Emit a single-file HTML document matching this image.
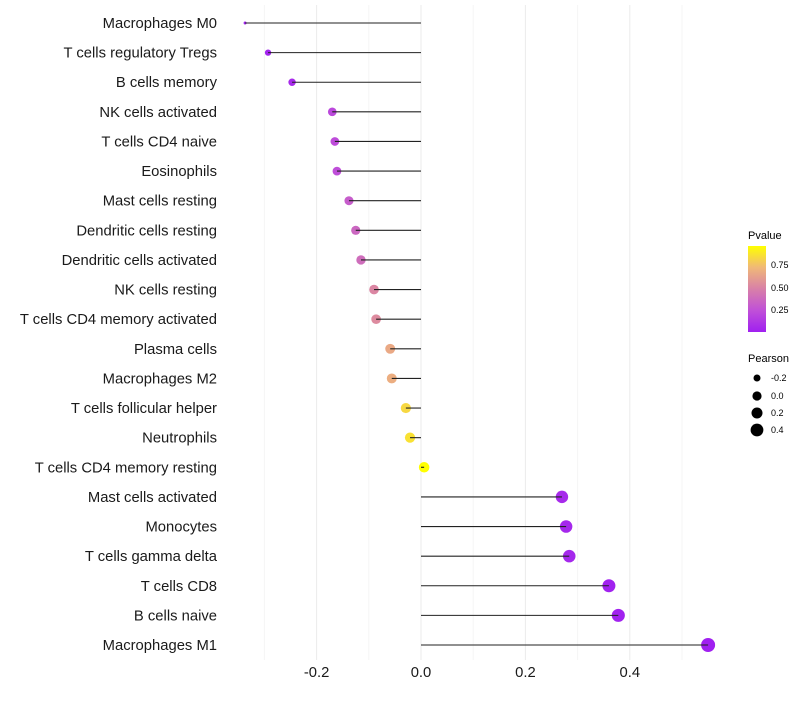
<!DOCTYPE html>
<html><head><meta charset="utf-8"><style>
body{margin:0;background:#fff;font-family:"Liberation Sans",sans-serif}
</style></head><body>
<svg id="chart" width="800" height="700" xmlns="http://www.w3.org/2000/svg">
<defs><linearGradient id="pg" x1="0" y1="1" x2="0" y2="0">
<stop offset="0" stop-color="#a020f0"/><stop offset="0.25" stop-color="#c050d8"/><stop offset="0.5" stop-color="#d880a8"/><stop offset="0.75" stop-color="#f0b878"/><stop offset="1" stop-color="#ffff00"/></linearGradient></defs>
<g id="grid"></g><g id="marks"></g><g id="labels"></g><g id="xt"></g>
<g>
<text x="748" y="239" font-size="11">Pvalue</text>
<rect x="748" y="246" width="18" height="86" fill="url(#pg)"/>
<text x="771" y="268" font-size="9">0.75</text>
<text x="771" y="291" font-size="9">0.50</text>
<text x="771" y="313" font-size="9">0.25</text>
</g>
<g>
<text x="748" y="362" font-size="11">Pearson</text>
<circle cx="757" cy="378" r="3.5"/><text x="771" y="381" font-size="9">-0.2</text>
<circle cx="757" cy="396" r="4.6"/><text x="771" y="399" font-size="9">0.0</text>
<circle cx="757" cy="413" r="5.5"/><text x="771" y="416" font-size="9">0.2</text>
<circle cx="757" cy="430" r="6.4"/><text x="771" y="433" font-size="9">0.4</text>
</g>
</svg>
<script>
const categories=["Macrophages M0","T cells regulatory  Tregs","B cells memory","NK cells activated","T cells CD4 naive","Eosinophils","Mast cells resting","Dendritic cells resting","Dendritic cells activated","NK cells resting","T cells CD4 memory activated","Plasma cells","Macrophages M2","T cells follicular helper","Neutrophils","T cells CD4 memory resting","Mast cells activated","Monocytes","T cells gamma delta","T cells CD8","B cells naive","Macrophages M1"];
const pearson=[-0.337,-0.293,-0.247,-0.170,-0.165,-0.161,-0.138,-0.125,-0.115,-0.090,-0.086,-0.059,-0.056,-0.029,-0.021,0.006,0.270,0.278,0.284,0.360,0.378,0.550];
const pvalue=[0.01,0.02,0.05,0.2,0.22,0.23,0.3,0.35,0.38,0.5,0.52,0.65,0.67,0.82,0.85,0.95,0.05,0.04,0.04,0.01,0.01,0.001];
const xTicks=[-0.2,0,0.2,0.4];
const xTickLabels=["-0.2","0.0","0.2","0.4"];
const NS="http://www.w3.org/2000/svg";
const x=v=>421+v*522;
const y=i=>23+i*(622/(categories.length-1));
const stops=[[0,[160,32,240]],[0.25,[192,80,216]],[0.5,[216,128,168]],[0.75,[240,184,120]],[1,[255,255,0]]];
function col(p){let t=Math.max(0,Math.min(1,p/0.95));for(let k=1;k<stops.length;k++){if(t<=stops[k][0]){const a=stops[k-1],b=stops[k],f=(t-a[0])/(b[0]-a[0]);return "rgb("+a[1].map((c,j)=>Math.round(c+(b[1][j]-c)*f)).join(",")+")";}}return "rgb(255,255,0)";}
const mn=Math.min(...pearson),mx=Math.max(...pearson);
const rad=v=>1.5+5.5*Math.pow((v-mn)/(mx-mn),0.4);
function mk(t,a,p){const e=document.createElementNS(NS,t);for(const k in a)e.setAttribute(k,a[k]);p.appendChild(e);return e;}
const grid=document.getElementById('grid');
for(let v=-0.3;v<=0.51;v+=0.1){const g=mk('line',{x1:x(v),x2:x(v),y1:5,y2:660,stroke:Math.abs(Math.round(v*10))%2===0?'#ebebeb':'#f5f5f5','stroke-width':1},grid);

}
const marks=document.getElementById('marks'),labels=document.getElementById('labels');
categories.forEach((c,i)=>{
const pt=mk('circle',{cx:x(pearson[i]),cy:y(i),r:rad(pearson[i]),fill:col(pvalue[i])},marks);


const ln=mk('line',{x1:x(0),x2:x(pearson[i]),y1:y(i),y2:y(i),stroke:'#222','stroke-width':1.1},marks);


const t=mk('text',{x:217,y:y(i)+5,'text-anchor':'end','font-size':14.8,fill:'#1a1a1a'},labels);t.textContent=c;


});
const xt=document.getElementById('xt');
xTicks.forEach((v,i)=>{const t=mk('text',{x:x(v),y:677,'text-anchor':'middle','font-size':14.8,fill:'#1a1a1a'},xt);t.textContent=xTickLabels[i];

});
</script>
</body></html>
